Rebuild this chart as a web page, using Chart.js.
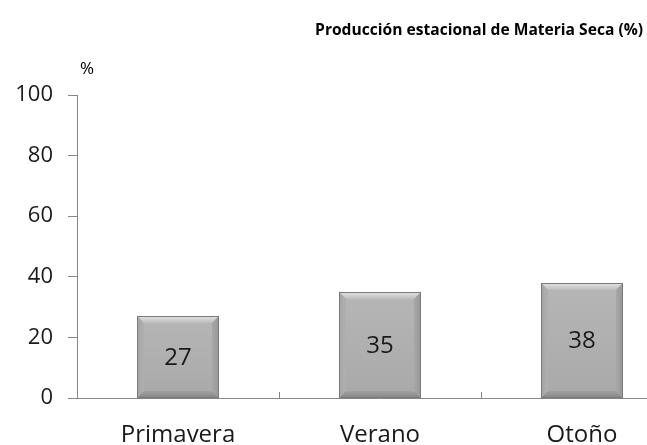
<!DOCTYPE html>
<html>
<head>
<meta charset="utf-8">
<script src="https://cdn.jsdelivr.net/npm/chart.js@4"></script>
<style>
  body { margin: 0; background: #fff; overflow: hidden; width: 647px; height: 445px; position: relative; }
  #wrap { position: absolute; left: 0; top: 0; width: 690px; height: 445px; }
  #title { position: absolute; right: 4px; top: 18px; font: bold 15.6px "Open Sans", sans-serif; color: #000; white-space: nowrap; }
  #unit { position: absolute; left: 80px; top: 56px; font: 17px "Open Sans", sans-serif; color: #000; }
</style>
</head>
<body>
<div id="wrap"><canvas id="c" width="690" height="445"></canvas></div>
<div id="title">Producción estacional de Materia Seca (%)</div>
<div id="unit">%</div>
<script>
const CATEGORIES = ["Primavera", "Verano", "Otoño"];
const VALUES = [27, 35, 38];
const Y_TICKS = [0, 20, 40, 60, 80, 100];

const AXIS = "#868686";
const TEXT = "#1a1a1a";
const FONT = "'Open Sans', sans-serif";

function grad(ctx, x0, y0, x1, y1, c0, c1) {
  const g = ctx.createLinearGradient(x0, y0, x1, y1);
  g.addColorStop(0, c0); g.addColorStop(1, c1);
  return g;
}

// bevelled grey bars like the old office 3-d preset
const bevel = {
  id: "bevel",
  afterDatasetsDraw(chart) {
    const ctx = chart.ctx;
    chart.getDatasetMeta(0).data.forEach((bar, i) => {
      const l = Math.round(bar.x - bar.width / 2), r = Math.round(bar.x + bar.width / 2);
      const t = Math.round(bar.y), b = Math.round(bar.base), e = 7;
      ctx.save();
      // face
      ctx.fillStyle = grad(ctx, 0, t, 0, b, "#b6b6b6", "#a9a9a9");
      ctx.fillRect(l, t, r - l, b - t);
      // top
      ctx.fillStyle = grad(ctx, 0, t, 0, t + e, "#e4e4e4", "#bcbcbc");
      ctx.beginPath(); ctx.moveTo(l, t); ctx.lineTo(r, t); ctx.lineTo(r - e, t + e); ctx.lineTo(l + e, t + e); ctx.fill();
      // bottom
      ctx.fillStyle = grad(ctx, 0, b - e, 0, b, "#a2a2a2", "#858585");
      ctx.beginPath(); ctx.moveTo(l, b); ctx.lineTo(r, b); ctx.lineTo(r - e, b - e); ctx.lineTo(l + e, b - e); ctx.fill();
      // sides
      ctx.fillStyle = grad(ctx, l, 0, l + e, 0, "#a4a4a4", "#b0b0b0");
      ctx.beginPath(); ctx.moveTo(l, t); ctx.lineTo(l + e, t + e); ctx.lineTo(l + e, b - e); ctx.lineTo(l, b); ctx.fill();
      ctx.fillStyle = grad(ctx, r - e, 0, r, 0, "#a8a8a8", "#969696");
      ctx.beginPath(); ctx.moveTo(r, t); ctx.lineTo(r - e, t + e); ctx.lineTo(r - e, b - e); ctx.lineTo(r, b); ctx.fill();
      ctx.strokeStyle = "#7a7a7a"; ctx.lineWidth = 1;
      ctx.strokeRect(l + 0.5, t + 0.5, r - l - 1, b - t - 1);
      // value label
      ctx.fillStyle = TEXT;
      ctx.font = "24px " + FONT;
      ctx.textAlign = "center"; ctx.textBaseline = "middle";
      ctx.fillText(String(VALUES[i]), bar.x, (t + b) / 2 + 1);
      ctx.restore();
    });
  },
  afterDraw(chart) {
    // small inward tick marks between categories on the x axis
    const x = chart.scales.x, ctx = chart.ctx, y0 = chart.chartArea.bottom;
    ctx.save();
    ctx.strokeStyle = AXIS; ctx.lineWidth = 1;
    for (let i = 0; i <= CATEGORIES.length; i++) {
      const px = Math.round(x.getPixelForValue(i - 0.5)) + 0.5;
      ctx.beginPath(); ctx.moveTo(px, y0); ctx.lineTo(px, y0 - 6); ctx.stroke();
    }
    ctx.restore();
  }
};

new Chart(document.getElementById("c"), {
  type: "bar",
  data: {
    labels: CATEGORIES,
    datasets: [{
      data: VALUES,
      backgroundColor: "rgba(0,0,0,0)",
      borderWidth: 0,
      categoryPercentage: 1,
      barPercentage: 0.41,
    }],
  },
  options: {
    responsive: false,
    animation: false,
    layout: { padding: { top: 95, right: 7, left: 0, bottom: 0 } },
    plugins: { legend: { display: false }, tooltip: { enabled: false } },
    scales: {
      x: {
        grid: { display: false },
        border: { display: true, color: AXIS, width: 1 },
        ticks: { color: TEXT, font: { family: FONT, size: 24 }, padding: 15, maxRotation: 0 },
        afterFit(s) { s.height = 47; },
      },
      y: {
        min: 0, max: 100,
        afterBuildTicks(s) { s.ticks = Y_TICKS.map(v => ({ value: v })); },
        grid: { display: true, drawOnChartArea: false, tickLength: 9, color: AXIS },
        border: { display: true, color: AXIS, width: 1 },
        ticks: { color: TEXT, font: { family: FONT, size: 22 }, padding: 15 },
        afterFit(s) { s.width = 77; },
      },
    },
  },
  plugins: [bevel],
});
</script>
</body>
</html>
